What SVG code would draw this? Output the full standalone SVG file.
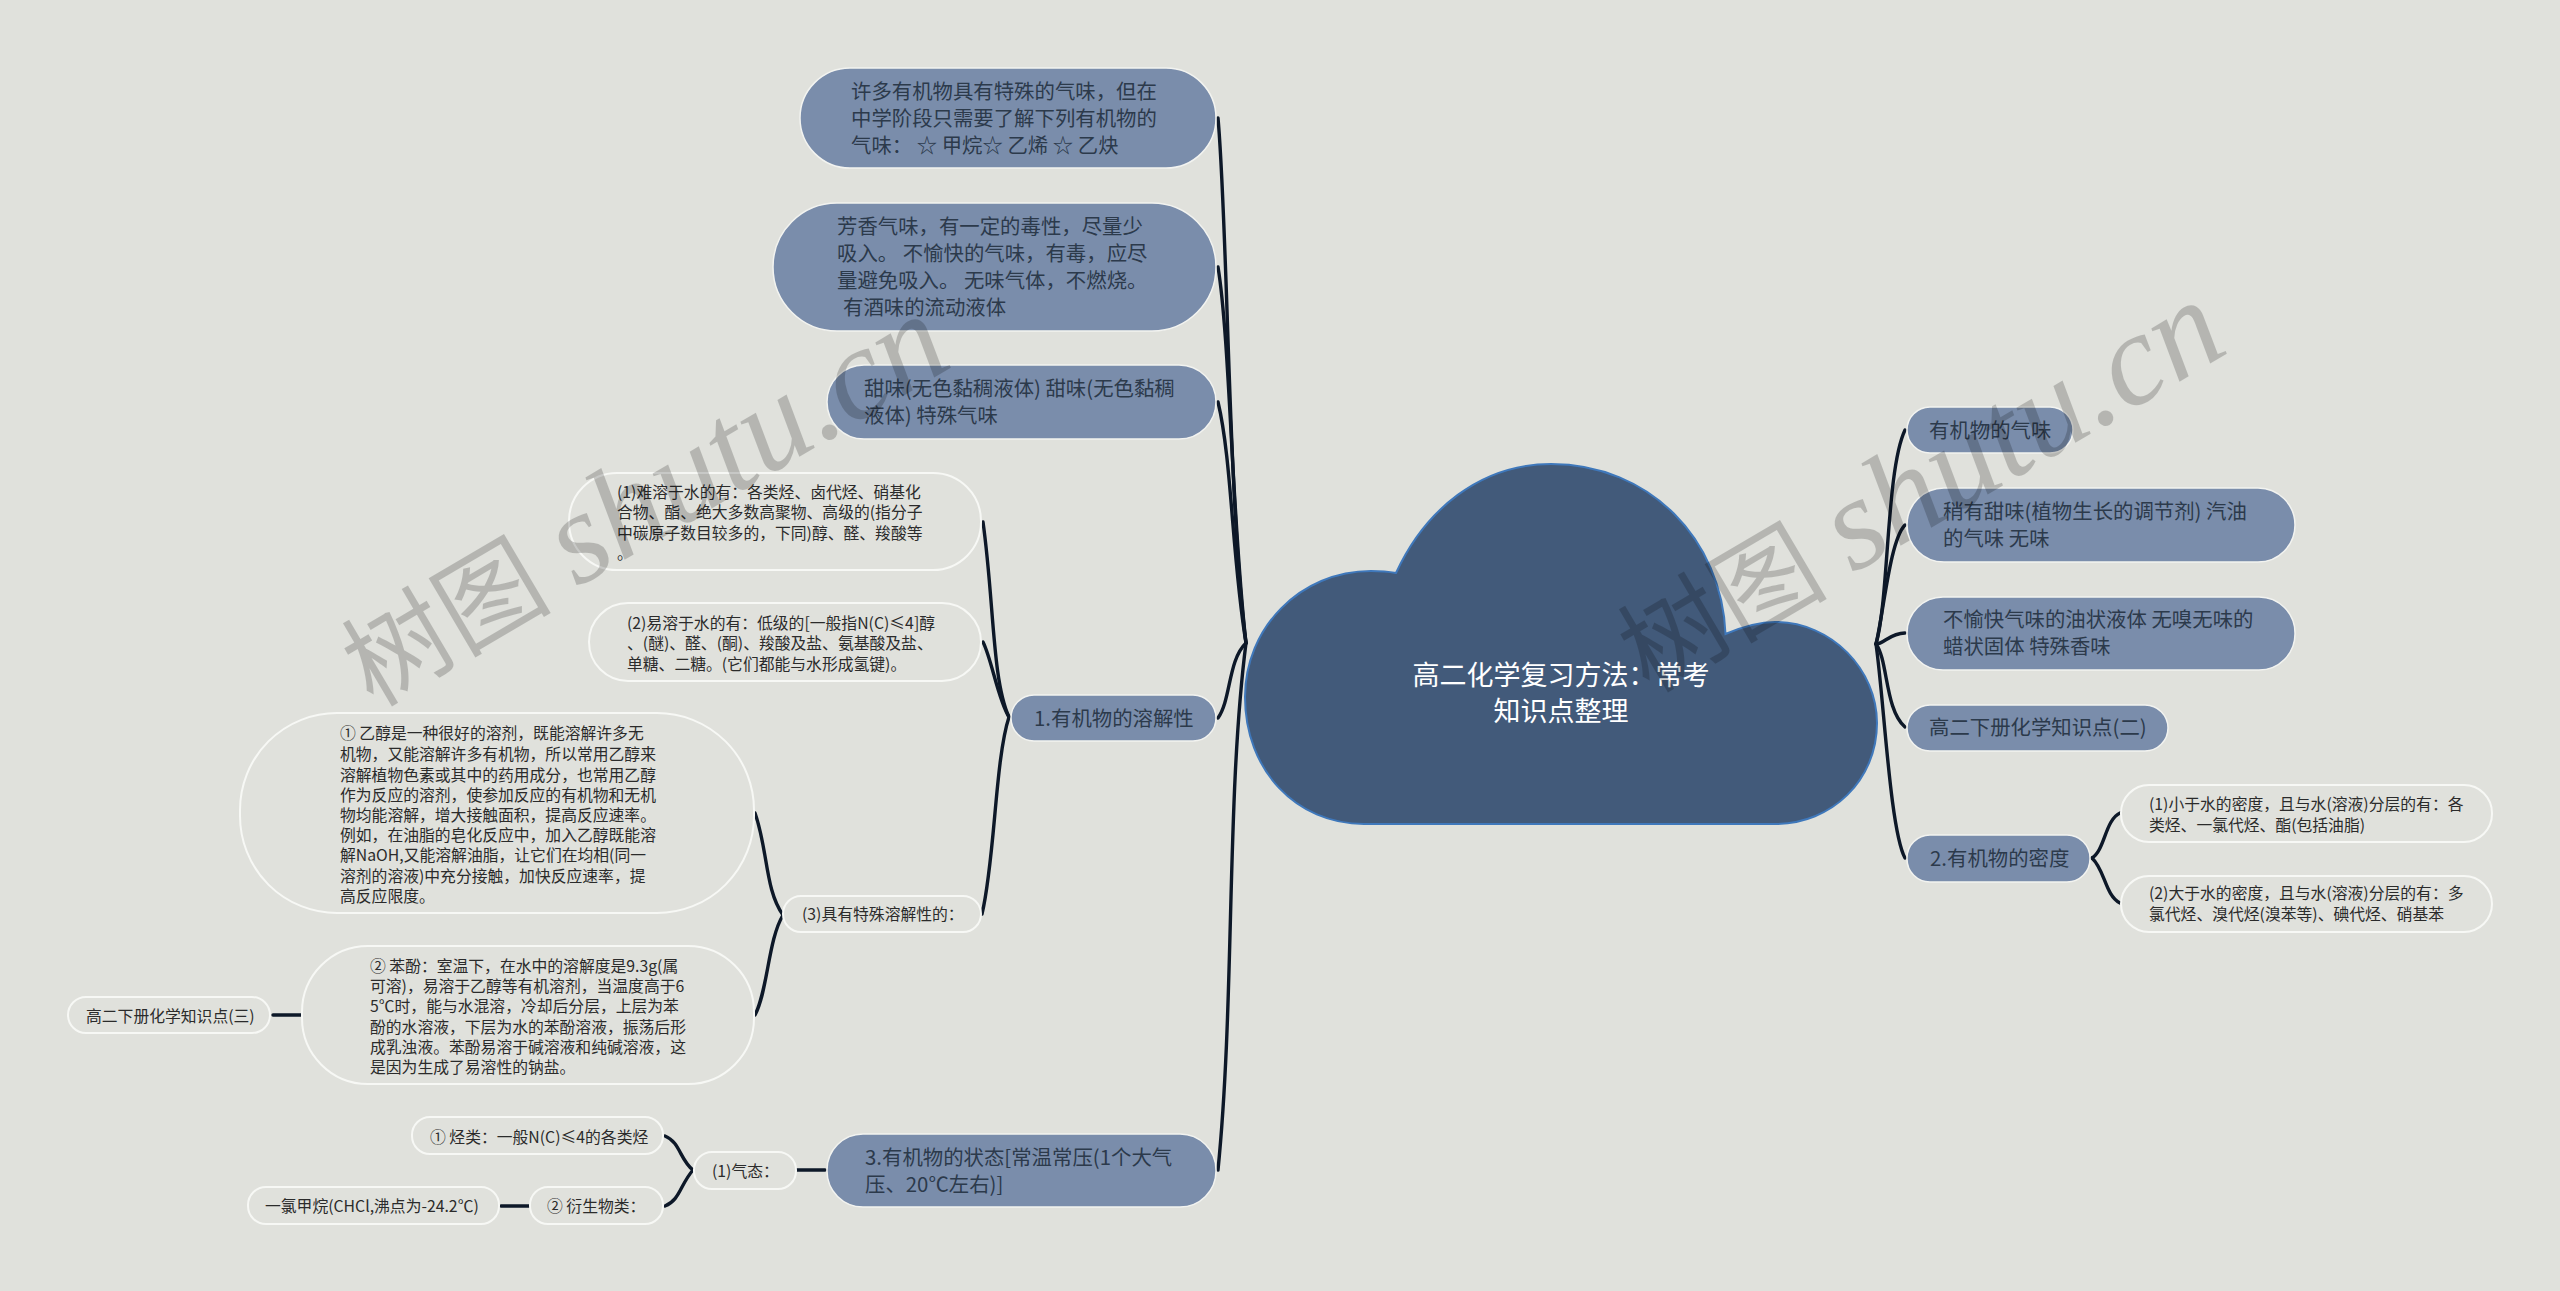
<svg xmlns="http://www.w3.org/2000/svg" width="2560" height="1291" viewBox="0 0 2560 1291">
<style>
text{font-family:"Noto Sans CJK SC","Noto Sans",sans-serif}
.b{fill:#7a8dab;stroke:#f2f3f0;stroke-width:1.5}
.l{fill:#e0e1dc;stroke:#f7f8f5;stroke-width:2}
.bt{font-size:20.4px;fill:#2c3a4b}
.lt{font-size:15.8px;fill:#2b2b2b}
.c{fill:none;stroke:#0d1828;stroke-width:3.4;stroke-linecap:round}
.wm{font-family:"Liberation Serif","Noto Sans CJK SC",serif;font-size:105px;fill:#000;opacity:.19}
.wm .la{font-size:131px;font-style:italic}
</style>
<rect width="2560" height="1291" fill="#e0e1dc"/>
<g id="connectors">
<path class="c" d="M1218 118C1228 230 1228 500 1246 643"/>
<path class="c" d="M1218 267C1230 340 1232 520 1246 643"/>
<path class="c" d="M1218 402C1232 460 1232 560 1246 643"/>
<path class="c" d="M1218 718C1231 700 1228 660 1246 643"/>
<path class="c" d="M1218 1170C1235 1000 1226 800 1246 643"/>
<path class="c" d="M1876 644C1889 600 1886 470 1905 430"/>
<path class="c" d="M1876 644C1884 610 1890 540 1905 525"/>
<path class="c" d="M1876 644C1884 644 1890 633 1905 633"/>
<path class="c" d="M1876 644C1888 660 1885 710 1905 727"/>
<path class="c" d="M1876 644C1884 700 1890 830 1905 858"/>
<path class="c" d="M983 522C994 600 992 680 1009 717"/>
<path class="c" d="M983 642C992 660 998 700 1009 717"/>
<path class="c" d="M982 914C995 860 995 760 1009 717"/>
<path class="c" d="M755 813C768 850 765 890 783 915"/>
<path class="c" d="M755 1015C768 990 768 940 783 915"/>
<path class="c" d="M273 1015H301"/>
<path class="c" d="M665 1136C680 1142 680 1160 693 1170"/>
<path class="c" d="M665 1206C680 1200 680 1185 693 1170"/>
<path class="c" d="M501 1206H529"/>
<path class="c" d="M797 1170H825"/>
<path class="c" d="M2092 858C2105 850 2105 820 2120 813"/>
<path class="c" d="M2092 858C2105 870 2105 895 2120 903"/>
</g>
<g id="root">
<path d="M1364 824C1296 824 1245 770 1245 697C1245 628 1300 571 1371 571Q1385 571 1396 573C1425 510 1480 464 1551 464C1650 464 1722 540 1725.500 634C1742 627 1758 622 1775 622C1832 622 1877 670 1877 723C1877 780 1832 824 1775 824Z" fill="#425a7a" stroke="#3f78bb" stroke-width="2"/>
<text text-anchor="middle" font-size="27" fill="#fff"><tspan x="1561" y="685">高二化学复习方法：常考</tspan><tspan x="1561" y="721">知识点整理</tspan></text>
</g>
<g id="n1"><rect class="b" x="800" y="68" width="416" height="100" rx="50"/><text class="bt"><tspan x="851" y="99">许多有机物具有特殊的气味，但在</tspan><tspan x="851" y="126">中学阶段只需要了解下列有机物的</tspan><tspan x="851" y="153">气味： ☆ 甲烷☆ 乙烯 ☆ 乙炔</tspan></text></g>
<g id="n2"><rect class="b" x="773" y="203" width="443" height="128" rx="64"/><text class="bt"><tspan x="837" y="234">芳香气味，有一定的毒性，尽量少</tspan><tspan x="837" y="261">吸入。 不愉快的气味，有毒，应尽</tspan><tspan x="837" y="288">量避免吸入。 无味气体，不燃烧。</tspan><tspan x="843" y="315">有酒味的流动液体</tspan></text></g>
<g id="n3"><rect class="b" x="827" y="365" width="389" height="74" rx="37"/><text class="bt"><tspan x="864" y="396">甜味(无色黏稠液体) 甜味(无色黏稠</tspan><tspan x="864" y="423">液体) 特殊气味</tspan></text></g>
<g id="n4"><rect class="b" x="1011" y="695" width="205" height="46" rx="23"/><text class="bt" x="1034" y="726">1.有机物的溶解性</text></g>
<g id="n5"><rect class="l" x="569" y="473" width="412" height="97" rx="48"/><text class="lt"><tspan x="617" y="498">(1)难溶于水的有：各类烃、卤代烃、硝基化</tspan><tspan x="617" y="518">合物、酯、绝大多数高聚物、高级的(指分子</tspan><tspan x="617" y="539">中碳原子数目较多的，下同)醇、醛、羧酸等</tspan><tspan x="617" y="559">。</tspan></text></g>
<g id="n6"><rect class="l" x="589" y="603" width="392" height="78" rx="39"/><text class="lt"><tspan x="627" y="629">(2)易溶于水的有：低级的[一般指N(C)≤4]醇</tspan><tspan x="627" y="649">、(醚)、醛、(酮)、羧酸及盐、氨基酸及盐、</tspan><tspan x="627" y="670">单糖、二糖。(它们都能与水形成氢键)。</tspan></text></g>
<g id="n7"><rect class="l" x="783" y="896" width="198" height="36" rx="18"/><text class="lt" x="802" y="920">(3)具有特殊溶解性的：</text></g>
<g id="n8"><rect class="l" x="240" y="713" width="514" height="200" rx="97"/><text class="lt"><tspan x="340" y="739">① 乙醇是一种很好的溶剂，既能溶解许多无</tspan><tspan x="340" y="760">机物，又能溶解许多有机物，所以常用乙醇来</tspan><tspan x="340" y="781">溶解植物色素或其中的药用成分，也常用乙醇</tspan><tspan x="340" y="801">作为反应的溶剂，使参加反应的有机物和无机</tspan><tspan x="340" y="821">物均能溶解，增大接触面积，提高反应速率。</tspan><tspan x="340" y="841">例如，在油脂的皂化反应中，加入乙醇既能溶</tspan><tspan x="340" y="861">解NaOH,又能溶解油脂，让它们在均相(同一</tspan><tspan x="340" y="882">溶剂的溶液)中充分接触，加快反应速率，提</tspan><tspan x="340" y="902">高反应限度。</tspan></text></g>
<g id="n9"><rect class="l" x="302" y="946" width="452" height="138" rx="66"/><text class="lt"><tspan x="370" y="972">② 苯酚：室温下，在水中的溶解度是9.3g(属</tspan><tspan x="370" y="992">可溶)，易溶于乙醇等有机溶剂，当温度高于6</tspan><tspan x="370" y="1012">5℃时，能与水混溶，冷却后分层，上层为苯</tspan><tspan x="370" y="1033">酚的水溶液，下层为水的苯酚溶液，振荡后形</tspan><tspan x="370" y="1053">成乳浊液。苯酚易溶于碱溶液和纯碱溶液，这</tspan><tspan x="370" y="1073">是因为生成了易溶性的钠盐。</tspan></text></g>
<g id="n10"><rect class="l" x="68" y="997" width="202" height="36" rx="18"/><text class="lt" x="86" y="1022">高二下册化学知识点(三)</text></g>
<g id="n11"><rect class="b" x="827" y="1134" width="389" height="73" rx="36"/><text class="bt"><tspan x="865" y="1165">3.有机物的状态[常温常压(1个大气</tspan><tspan x="865" y="1192">压、20℃左右)]</tspan></text></g>
<g id="n12"><rect class="l" x="694" y="1152" width="102" height="37" rx="18"/><text class="lt" x="712" y="1177">(1)气态：</text></g>
<g id="n13"><rect class="l" x="412" y="1117" width="251" height="37" rx="18"/><text class="lt" x="430" y="1143">① 烃类：一般N(C)≤4的各类烃</text></g>
<g id="n14"><rect class="l" x="530" y="1187" width="133" height="37" rx="18"/><text class="lt" x="547" y="1212">② 衍生物类：</text></g>
<g id="n15"><rect class="l" x="248" y="1187" width="251" height="37" rx="18"/><text class="lt" x="265" y="1212">一氯甲烷(CHCl,沸点为-24.2℃)</text></g>
<g id="n16"><rect class="b" x="1907" y="407" width="166" height="46" rx="23"/><text class="bt" x="1929" y="438">有机物的气味</text></g>
<g id="n17"><rect class="b" x="1907" y="488" width="388" height="74" rx="37"/><text class="bt"><tspan x="1943" y="519">稍有甜味(植物生长的调节剂) 汽油</tspan><tspan x="1943" y="546">的气味 无味</tspan></text></g>
<g id="n18"><rect class="b" x="1907" y="597" width="388" height="73" rx="36"/><text class="bt"><tspan x="1943" y="627">不愉快气味的油状液体 无嗅无味的</tspan><tspan x="1943" y="654">蜡状固体 特殊香味</tspan></text></g>
<g id="n19"><rect class="b" x="1907" y="705" width="261" height="46" rx="23"/><text class="bt" x="1929" y="735">高二下册化学知识点(二)</text></g>
<g id="n20"><rect class="b" x="1907" y="835" width="183" height="47" rx="23"/><text class="bt" x="1930" y="866">2.有机物的密度</text></g>
<g id="n21"><rect class="l" x="2121" y="785" width="371" height="57" rx="28"/><text class="lt"><tspan x="2149" y="810">(1)小于水的密度，且与水(溶液)分层的有：各</tspan><tspan x="2149" y="831">类烃、一氯代烃、酯(包括油脂)</tspan></text></g>
<g id="n22"><rect class="l" x="2121" y="876" width="371" height="56" rx="28"/><text class="lt"><tspan x="2149" y="899">(2)大于水的密度，且与水(溶液)分层的有：多</tspan><tspan x="2149" y="920">氯代烃、溴代烃(溴苯等)、碘代烃、硝基苯</tspan></text></g>
<text class="wm" transform="translate(373 708) rotate(-30.500)">树图 <tspan class="la">shutu.cn</tspan></text>
<text class="wm" transform="translate(1649 694) rotate(-30.500)">树图 <tspan class="la">shutu.cn</tspan></text>
</svg>
